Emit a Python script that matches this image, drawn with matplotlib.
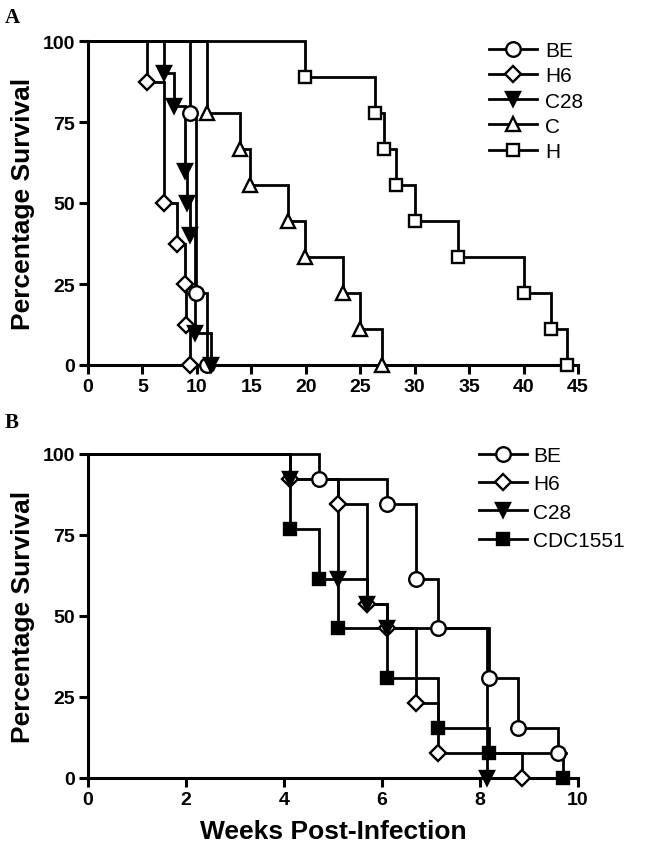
import matplotlib
matplotlib.use("Agg")
import matplotlib.pyplot as plt
from matplotlib.lines import Line2D

# ---------------- Panel A data (weeks post-infection, % survival) -------------
a_labels = ["BE", "H6", "C28", "C", "H"]
a_be_weeks = [9.4, 9.9, 10.9]
a_be_surv = [77.8, 22.2, 0]
a_h6_weeks = [5.45, 7.0, 8.2, 8.9, 9.0, 9.4]
a_h6_surv = [87.5, 50, 37.5, 25, 12.5, 0]
a_c28_weeks = [7.0, 7.9, 8.9, 9.1, 9.4, 9.85, 11.3]
a_c28_surv = [90, 80, 60, 50, 40, 10, 0]
a_c_weeks = [10.9, 14.0, 14.9, 18.4, 19.9, 23.4, 25.0, 27.0]
a_c_surv = [77.8, 66.7, 55.6, 44.4, 33.3, 22.2, 11.1, 0]
a_h_weeks = [19.9, 26.4, 27.2, 28.3, 30.0, 34.0, 40.0, 42.5, 44.0]
a_h_surv = [88.9, 77.8, 66.7, 55.6, 44.4, 33.3, 22.2, 11.1, 0]
a_xticks = [0, 5, 10, 15, 20, 25, 30, 35, 40, 45]

# ---------------- Panel B data -------------------------------------------------
b_labels = ["BE", "H6", "C28", "CDC1551"]
b_be_weeks = [4.72, 6.1, 6.69, 7.15, 8.19, 8.78, 9.6]
b_be_surv = [92.3, 84.6, 61.5, 46.2, 30.8, 15.4, 7.7]
b_be_end = 9.75
b_h6_weeks = [4.12, 5.1, 5.69, 6.1, 6.69, 7.15, 8.86]
b_h6_surv = [92.3, 84.6, 53.8, 46.2, 23.1, 7.7, 0]
b_c28_weeks = [4.12, 5.1, 5.69, 6.1, 8.15]
b_c28_surv = [92.3, 61.5, 53.8, 46.2, 0]
b_cdc_weeks = [4.12, 4.72, 5.1, 6.1, 7.15, 8.19, 9.7]
b_cdc_surv = [76.9, 61.5, 46.2, 30.8, 15.4, 7.7, 0]
b_xticks = [0, 2, 4, 6, 8, 10]

yticks = [0, 25, 50, 75, 100]

W, H = 649, 853
fig = plt.figure(figsize=(W / 100, H / 100), dpi=100)

LW = 2.0
MS = 10.5
MEW = 1.7
FONT = "Liberation Sans"

styles = {
    "BE": dict(marker="o", mfc="white", mec="black"),
    "H6": dict(marker="D", mfc="white", mec="black", ms_scale=0.78),
    "C28": dict(marker="v", mfc="black", mec="black"),
    "C": dict(marker="^", mfc="white", mec="black"),
    "H": dict(marker="s", mfc="white", mec="black", ms_scale=0.88),
    "CDC1551": dict(marker="s", mfc="black", mec="black", ms_scale=0.88),
}


def draw_curve(ax, name, weeks, surv, end=None, z=3):
    st = styles[name]
    xs = [0] + list(weeks)
    ys = [100] + list(surv)
    if end is not None:
        xs.append(end)
        ys.append(surv[-1])
    ax.step(xs, ys, where="post", color="black", lw=LW, zorder=z, clip_on=False,
            solid_joinstyle="miter")
    ax.plot(weeks, surv, linestyle="none", marker=st["marker"],
            ms=MS * st.get("ms_scale", 1.0), mfc=st["mfc"], mec=st["mec"],
            mew=MEW, zorder=z + 10, clip_on=False)


def legend_handle(name):
    st = styles[name]
    return Line2D([0], [0], color="black", lw=LW, marker=st["marker"],
                  ms=MS * st.get("ms_scale", 1.0), mfc=st["mfc"], mec=st["mec"], mew=MEW)


def style_axes(ax, xticks, xmax):
    ax.set_xlim(0, xmax)
    ax.set_ylim(0, 100)
    ax.set_xticks(xticks)
    ax.set_yticks(yticks)
    for s in ["top", "right"]:
        ax.spines[s].set_visible(False)
    for s in ["left", "bottom"]:
        ax.spines[s].set_linewidth(2.2)
    ax.tick_params(direction="out", length=6.5, width=2.2, pad=3)
    for lab in ax.get_xticklabels() + ax.get_yticklabels():
        lab.set_fontfamily(FONT)
        lab.set_fontweight("bold")
        lab.set_fontsize(14)
    ax.set_ylabel("Percentage Survival", fontfamily=FONT,
                  fontweight="bold", fontsize=19, labelpad=5)


def px_axes(x0, y0, x1, y1):
    return fig.add_axes([x0 / W, 1 - y1 / H, (x1 - x0) / W, (y1 - y0) / H])


# ---------------- Panel A ------------------------------------------------------
axA = px_axes(88, 42, 578, 366)
draw_curve(axA, "BE", a_be_weeks, a_be_surv)
draw_curve(axA, "H6", a_h6_weeks, a_h6_surv)
draw_curve(axA, "C28", a_c28_weeks, a_c28_surv)
draw_curve(axA, "C", a_c_weeks, a_c_surv)
draw_curve(axA, "H", a_h_weeks, a_h_surv)
style_axes(axA, a_xticks, 45)
axA.legend([legend_handle(n) for n in a_labels], a_labels,
           loc="upper left", bbox_to_anchor=(489 / W, 1 - 42 / H),
           bbox_transform=fig.transFigure, frameon=False,
           prop={"family": FONT, "size": 15},
           handlelength=2.3, handletextpad=0.4, labelspacing=0.3,
           borderpad=0, borderaxespad=0)

# ---------------- Panel B ------------------------------------------------------
axB = px_axes(88, 455, 578, 779)
draw_curve(axB, "BE", b_be_weeks, b_be_surv, end=b_be_end)
draw_curve(axB, "H6", b_h6_weeks, b_h6_surv)
draw_curve(axB, "C28", b_c28_weeks, b_c28_surv)
draw_curve(axB, "CDC1551", b_cdc_weeks, b_cdc_surv)
style_axes(axB, b_xticks, 10)
axB.set_xlabel("Weeks Post-Infection", fontfamily=FONT,
               fontweight="bold", fontsize=19, labelpad=8)
axB.legend([legend_handle(n) for n in b_labels], b_labels,
           loc="upper left", bbox_to_anchor=(479 / W, 1 - 447 / H),
           bbox_transform=fig.transFigure, frameon=False,
           prop={"family": FONT, "size": 15},
           handlelength=2.3, handletextpad=0.3, labelspacing=0.45,
           borderpad=0, borderaxespad=0)

# panel letters
fig.text(5 / W, 1 - 8 / H, "A", fontfamily="Liberation Serif", fontweight="bold",
         fontsize=15, va="top", ha="left")
fig.text(5 / W, 1 - 413 / H, "B", fontfamily="Liberation Serif", fontweight="bold",
         fontsize=15, va="top", ha="left")

fig.savefig("out.png", dpi=100)
